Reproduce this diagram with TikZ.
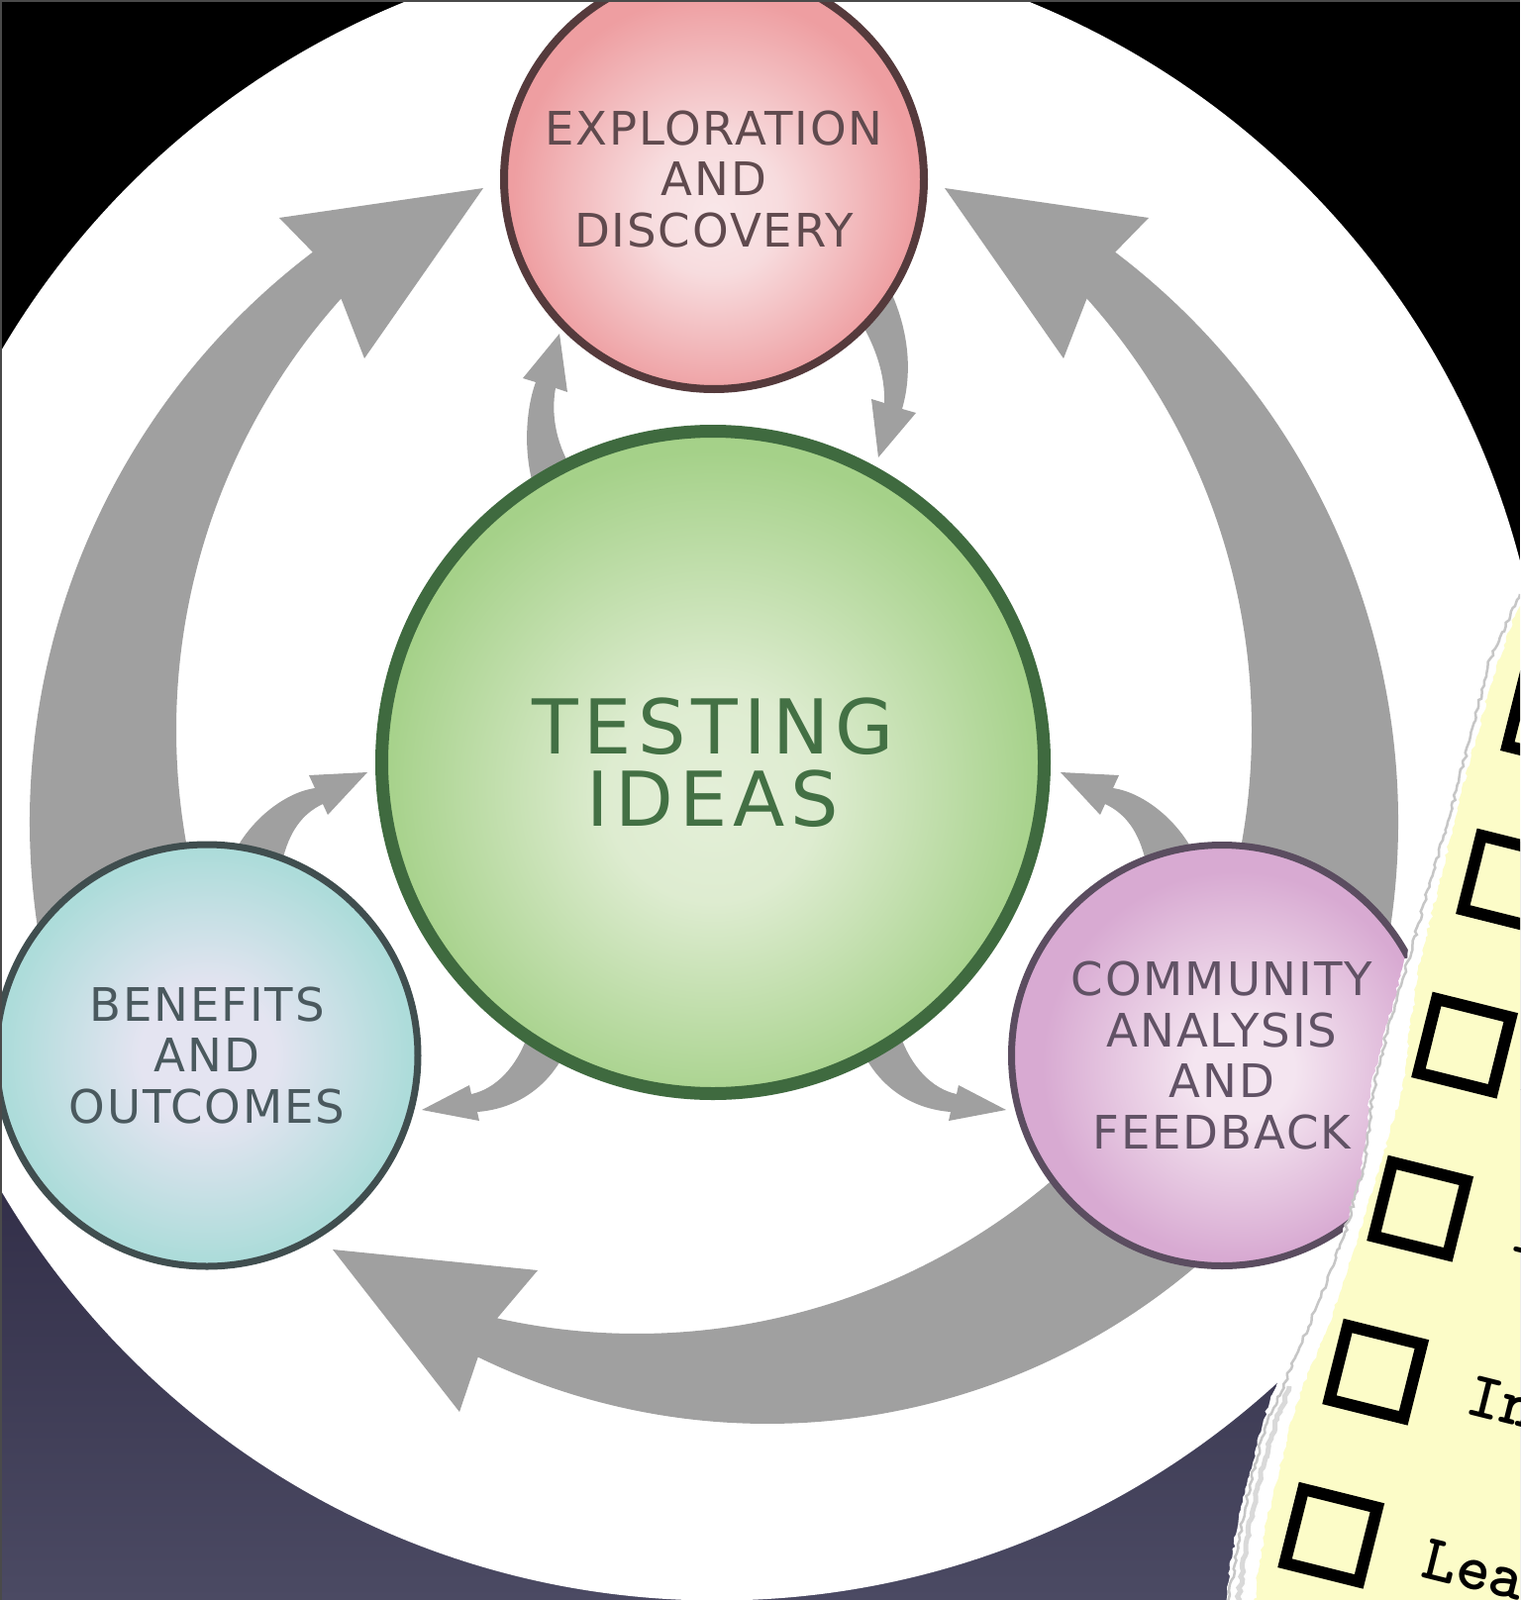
\documentclass[tikz,border=0pt]{standalone}
\usepackage{fontspec}
\newfontfamily\diag{DejaVu Sans}[LetterSpace=4]
\newfontfamily\diagbig{DejaVu Sans}[LetterSpace=8]
\usetikzlibrary{calc,decorations.pathmorphing}
\definecolor{bgA}{HTML}{2D2943}
\definecolor{bgB}{HTML}{4B4A63}
\definecolor{arrowgray}{HTML}{A0A0A0}
\definecolor{pinkC}{HTML}{F9E7E9}
\definecolor{pinkE}{HTML}{EE9EA1}
\definecolor{pinkB}{HTML}{553A3C}
\definecolor{pinkT}{HTML}{604A4E}
\definecolor{greenC}{HTML}{E4EFD8}
\definecolor{greenE}{HTML}{A5D189}
\definecolor{greenB}{HTML}{3F6A3F}
\definecolor{greenT}{HTML}{437044}
\definecolor{tealC}{HTML}{E4E4F1}
\definecolor{tealE}{HTML}{ADDCDA}
\definecolor{tealB}{HTML}{404E4F}
\definecolor{tealT}{HTML}{4A595E}
\definecolor{purpC}{HTML}{F4E5F0}
\definecolor{purpE}{HTML}{D8AAD2}
\definecolor{purpB}{HTML}{5B4D60}
\definecolor{purpT}{HTML}{615265}
\definecolor{paperY}{HTML}{FCFCC8}
\definecolor{frameG}{HTML}{4A4A4A}
\pgfdeclareradialshading{pinkball}{\pgfpoint{0bp}{-4bp}}{color(0bp)=(pinkC); color(8bp)=(pinkC!85!pinkE); color(24bp)=(pinkE); color(50bp)=(pinkE)}
\pgfdeclareradialshading{greenball}{\pgfpoint{0bp}{-3bp}}{color(0bp)=(greenC); color(8bp)=(greenC!90!greenE); color(25bp)=(greenE); color(50bp)=(greenE)}
\pgfdeclareradialshading{tealball}{\pgfpoint{0bp}{0bp}}{color(0bp)=(tealC); color(8bp)=(tealC); color(24bp)=(tealE); color(50bp)=(tealE)}
\pgfdeclareradialshading{purpball}{\pgfpoint{3bp}{-2bp}}{color(0bp)=(purpC); color(6bp)=(purpC); color(23bp)=(purpE); color(50bp)=(purpE)}
\begin{document}
\begin{tikzpicture}[x=1pt,y=-1pt,
  ball/.style={circle, inner sep=0pt, align=center, shade},
  garrow/.style={fill=arrowgray},
  boxline/.style={draw=black, line width=12},
  boxtext/.style={transform shape, anchor=base west, inner sep=0pt, text=black,
    font=\ttfamily\bfseries\fontsize{66}{66}\selectfont},
  torn/.style={decorate, decoration={random steps, segment length=4pt, amplitude=1.6pt}}
  ]
\useasboundingbox (0,0) rectangle (1535,1616);
\clip (0,0) rectangle (1535,1616);
% background
\fill[black] (0,0) rectangle (1535,1616);
\shade[top color=black, bottom color=bgA] (0,850) rectangle (1535,1100);
\shade[top color=bgA, bottom color=bgB] (0,1100) rectangle (1535,1616);
% white disc
\fill[white] (724,778.5) circle (838);
% big arrows
\coordinate (LO) at (752,830); \coordinate (LI) at (831,737);
\fill[garrow] ($(LO)+(165:722)$) arc[start angle=165, end angle=232.83, radius=722]
  -- (282,220) -- (488,190) -- (368,362) -- ($(LI)+(221.83:653)$)
  arc[start angle=221.83, end angle=160, radius=653] -- cycle;
\coordinate (RO) at (690,830); \coordinate (RI) at (611,737);
\fill[garrow] ($(RO)+(15:722)$) arc[start angle=15, end angle=-52.83, radius=722]
  -- (1160,220) -- (954,190) -- (1074,362) -- ($(RI)+(-41.83:653)$)
  arc[start angle=-41.83, end angle=20, radius=653] -- cycle;
\coordinate (BO) at (775,770); \coordinate (BI) at (643,702);
\fill[garrow] ($(BO)+(49.5:668)$) arc[start angle=49.5, end angle=115.95, radius=668]
  -- (464,1426) -- (336,1262) -- (543,1283) -- ($(BI)+(102.62:645)$)
  arc[start angle=102.62, end angle=38, radius=645] -- cycle;
% small arrows
\fill[garrow] (580,478) .. controls (562,450) and (556,420) .. (561,392) -- (573,396) -- (565,337)
  -- (528,382) -- (541,386) .. controls (532,410) and (527,455) .. (540,495) -- cycle;
\fill[garrow] (865,318) .. controls (885,350) and (894,380) .. (893,407) -- (880,403) -- (887,462)
  -- (925,417) -- (911,413) .. controls (922,375) and (918,330) .. (895,285) -- cycle;
\fill[garrow] (285,870) .. controls (292,840) and (305,822) .. (326,812) -- (331,823) -- (371,780)
  -- (312,783) -- (318,796) .. controls (290,800) and (255,825) .. (236,862) -- cycle;
\fill[garrow] (568,1068) .. controls (550,1100) and (520,1120) .. (482,1123) -- (484,1132) -- (426,1121)
  -- (474,1096) -- (476,1105) .. controls (500,1100) and (522,1078) .. (533,1045) -- cycle;
\fill[garrow] (1157,870) .. controls (1150,840) and (1137,822) .. (1116,812) -- (1111,823) -- (1071,780)
  -- (1130,783) -- (1124,796) .. controls (1152,800) and (1187,825) .. (1206,862) -- cycle;
\fill[garrow] (874,1068) .. controls (892,1100) and (922,1120) .. (960,1123) -- (958,1132) -- (1016,1121)
  -- (968,1096) -- (966,1105) .. controls (942,1100) and (920,1078) .. (909,1045) -- cycle;
% circles
\node[ball, minimum size=424, draw=pinkB, line width=8, shading=pinkball, text=pinkT,
  font=\diag\fontsize{46.6}{51.5}\selectfont] (explore) at (721,181) {EXPLORATION\\AND\\DISCOVERY};
\node[ball, minimum size=669, draw=greenB, line width=13, shading=greenball, text=greenT,
  font=\diagbig\fontsize{76.4}{73.5}\selectfont] (testing) at (720,770) {TESTING\\IDEAS};
\node[ball, minimum size=426, draw=tealB, line width=7, shading=tealball, text=tealT,
  font=\diag\fontsize{46.6}{51.5}\selectfont] (benefits) at (209,1066) {BENEFITS\\AND\\OUTCOMES};
\node[ball, minimum size=425, draw=purpB, line width=7, shading=purpball, text=purpT,
  font=\diag\fontsize{46.6}{51.5}\selectfont] (community) at (1234,1066) {COMMUNITY\\ANALYSIS\\AND\\FEEDBACK};
% torn paper: white fringe
\fill[white, torn] (1535,598) -- (1515,640) -- (1505,665) -- (1495,693) -- (1489,720) -- (1481,748)
  -- (1476,773) -- (1468,800) -- (1462,825) -- (1454,852) -- (1449,876) -- (1440,902) -- (1433,928)
  -- (1424,955) -- (1416,979) -- (1408,1010) -- (1399,1040) -- (1392,1070) -- (1384,1100) -- (1382,1125)
  -- (1380,1150) -- (1376,1175) -- (1372,1200) -- (1364,1222) -- (1356,1245) -- (1348,1266) -- (1341,1287)
  -- (1332,1306) -- (1323,1325) -- (1315,1343) -- (1306,1360) -- (1299,1375) -- (1292,1390) -- (1287,1404)
  -- (1282,1417) -- (1276,1434) -- (1271,1450) -- (1267,1467) -- (1264,1483) -- (1259,1500) -- (1255,1517)
  -- (1251,1533) -- (1248,1550) -- (1245,1568) -- (1242,1585) -- (1240,1600) -- (1238,1620)
  -- (1540,1620) -- (1540,598) -- cycle;
\draw[gray!45, line width=2.5, torn] (1535,600) -- (1505,665) -- (1484,748) -- (1462,830) -- (1440,905)
  -- (1418,985) -- (1400,1045) -- (1386,1105) -- (1378,1175) -- (1358,1245) -- (1334,1310)
  -- (1300,1390) -- (1278,1440) -- (1262,1500) -- (1250,1560) -- (1240,1620);
\draw[gray!30, line width=5, torn] (1302,1400) -- (1284,1450) -- (1270,1500) -- (1258,1560) -- (1250,1620);
% yellow paper
\fill[paperY, torn] (1535,612) -- (1522,640) -- (1515,665) -- (1505,693) -- (1498,720) -- (1490,748)
  -- (1484,773) -- (1476,800) -- (1470,825) -- (1463,852) -- (1458,876) -- (1451,902) -- (1445,928)
  -- (1438,955) -- (1432,979) -- (1428,1010) -- (1424,1040) -- (1420,1070) -- (1417,1100) -- (1409,1125)
  -- (1402,1150) -- (1394,1175) -- (1387,1200) -- (1380,1222) -- (1372,1245) -- (1366,1266) -- (1360,1287)
  -- (1353,1306) -- (1346,1325) -- (1340,1343) -- (1333,1360) -- (1326,1375) -- (1320,1390) -- (1315,1404)
  -- (1310,1417) -- (1305,1434) -- (1300,1450) -- (1296,1467) -- (1293,1483) -- (1288,1500) -- (1284,1517)
  -- (1280,1533) -- (1277,1550) -- (1274,1568) -- (1271,1585) -- (1269,1600) -- (1267,1620)
  -- (1540,1620) -- (1540,612) -- cycle;
% check boxes and words
\begin{scope}[shift={(1401.7,1166.7)}, rotate=-14]
  \foreach \k in {-3,...,2} {
    \draw[boxline] ({-3.7*\k+6},{171*\k+6}) rectangle ({-3.7*\k+83},{171*\k+83});
  }
  \node[boxtext] (w1) at (141,63) {I};
  \node[boxtext] (w2) at (137.3,234) {In};
  \node[boxtext] (w3) at (133.6,405) {Lea};
\end{scope}
% frame
\draw[frameG, line width=2] (1,1616) -- (1,1) -- (1535,1);
\end{tikzpicture}
\end{document}
